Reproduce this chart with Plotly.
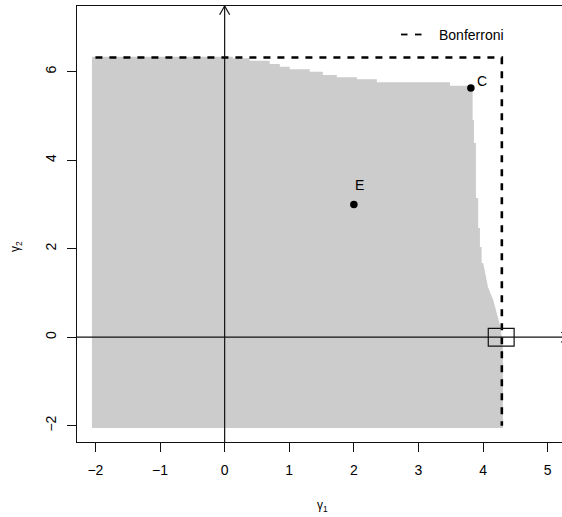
import plotly.graph_objects as go

# ---- axis extents and ticks ----
x_range = [-2.285, 5.221]
y_range = [-2.368, 7.485]
x_ticks = [-2, -1, 0, 1, 2, 3, 4, 5]
y_ticks = [-2, 0, 2, 4, 6]

# ---- acceptance region (grey) ----
region_left = -2.054
region_bottom = -2.052
# upper boundary: step breaks along gamma1 and the level of each step
top_breaks = [-2.054, 0.125, 0.389, 0.698, 0.853, 1.008, 1.318, 1.519,
              1.736, 2.046, 2.356, 3.487, 3.838]
top_levels = [6.339, 6.303, 6.249, 6.174, 6.113, 6.054, 6.000, 5.925,
              5.873, 5.828, 5.760, 5.684]
# right boundary, walking downwards
right_x = [3.838, 3.838, 3.858, 3.858, 3.889, 3.889, 3.924, 3.924, 3.951,
           3.951, 3.977, 3.977, 4.002, 4.075, 4.157, 4.230, 4.260, 4.291,
           4.307, 4.307]
right_y = [5.684, 4.909, 4.909, 4.389, 4.389, 3.146, 3.146, 2.468, 2.468,
           2.038, 2.038, 1.677, 1.677, 1.134, 0.841, 0.457, 0.276, 0.005,
           -0.289, -2.052]

# ---- Bonferroni rectangle ----
bonf_left = -2.0
bonf_x = 4.29
bonf_y = 6.32
bonf_low = -2.0

# ---- labelled points ----
point_names = ["C", "E"]
point_x = [3.811, 2.0]
point_y = [5.632, 3.0]
label_x = [3.982, 2.092]
label_y = [5.79, 3.43]

# ---- small box around the Bonferroni corner on the gamma1 axis ----
zoom_box_x = [4.08, 4.48]
zoom_box_y = [-0.2, 0.2]

# arrow tips of the coordinate axes
h_arrow_tip = 5.344
v_arrow_tip = y_range[1]

FONT = "Liberation Sans, Arial, Helvetica, sans-serif"
INK = "#111111"

# plot-area pixel geometry, used to place paper-referenced items
L, T, B, W, H = 77, 6, 75, 562, 517
PW, PH = W - L, H - T - B


def px(xp):
    return (xp - L) / PW


def py(yp):
    return (T + PH - yp) / PH


# build the grey polygon
poly_x = [region_left, region_left]
poly_y = [region_bottom, top_levels[0]]
for i, lvl in enumerate(top_levels):
    poly_x += [top_breaks[i], top_breaks[i + 1]]
    poly_y += [lvl, lvl]
poly_x += right_x + [region_left]
poly_y += right_y + [region_bottom]

fig = go.Figure()

fig.add_trace(go.Scatter(
    x=poly_x, y=poly_y, mode="lines", fill="toself",
    fillcolor="#cccccc", line=dict(color="#cccccc", width=0),
    hoverinfo="skip", showlegend=False))

# Bonferroni bound (dashed)
fig.add_trace(go.Scatter(
    x=[bonf_left, bonf_x, bonf_x], y=[bonf_y, bonf_y, bonf_low],
    mode="lines", line=dict(color="black", width=2.6, dash="7px,7px"),
    hoverinfo="skip", showlegend=False))

# points
fig.add_trace(go.Scatter(
    x=point_x, y=point_y, mode="markers",
    marker=dict(color="black", size=7.5),
    hoverinfo="skip", showlegend=False))

shapes = []
# coordinate axes through the origin
shapes.append(dict(type="line", xref="x", yref="y", x0=x_range[0], x1=h_arrow_tip,
                   y0=0, y1=0, line=dict(color=INK, width=1.2)))
shapes.append(dict(type="line", xref="x", yref="y", x0=0, x1=0,
                   y0=y_range[0], y1=v_arrow_tip, line=dict(color=INK, width=1.2)))
# arrow heads (about 10 px long, 30 degrees)
hx_len, hy_half = 8.7 / 64.6, 5.0 / 44.25
vx_half, vy_len = 5.0 / 64.6, 8.7 / 44.25
for s in (-1, 1):
    shapes.append(dict(type="line", xref="x", yref="y", x0=h_arrow_tip, y0=0,
                       x1=h_arrow_tip - hx_len, y1=s * hy_half,
                       line=dict(color=INK, width=1.2)))
    shapes.append(dict(type="line", xref="x", yref="y", x0=0, y0=v_arrow_tip,
                       x1=s * vx_half, y1=v_arrow_tip - vy_len,
                       line=dict(color=INK, width=1.2)))
# small box
shapes.append(dict(type="rect", xref="x", yref="y",
                   x0=zoom_box_x[0], x1=zoom_box_x[1],
                   y0=zoom_box_y[0], y1=zoom_box_y[1],
                   line=dict(color=INK, width=1.2)))
# legend sample: two short dashes
for x0, x1 in ((401, 407.5), (415, 421.5)):
    shapes.append(dict(type="line", xref="paper", yref="paper",
                       x0=px(x0), x1=px(x1), y0=py(34.5), y1=py(34.5),
                       line=dict(color="black", width=1.8)))

annotations = []
for name, lx, ly in zip(point_names, label_x, label_y):
    annotations.append(dict(x=lx, y=ly, xref="x", yref="y", text=name,
                            showarrow=False, xanchor="center", yanchor="middle",
                            font=dict(size=14, color="black", family=FONT)))
annotations.append(dict(x=px(437), y=py(35), xref="paper", yref="paper",
                        text="Bonferroni", showarrow=False,
                        xanchor="left", yanchor="middle",
                        font=dict(size=14, color="black", family=FONT)))
# axis titles
annotations.append(dict(x=px(322), y=py(506), xref="paper", yref="paper",
                        text="γ<sub>1</sub>", showarrow=False,
                        xanchor="center", yanchor="middle",
                        font=dict(size=12, color="black", family=FONT)))
annotations.append(dict(x=px(16), y=py(247), xref="paper", yref="paper",
                        text="γ<sub>2</sub>", showarrow=False, textangle=-90,
                        xanchor="center", yanchor="middle",
                        font=dict(size=12, color="black", family=FONT)))

fig.update_layout(
    width=W, height=H,
    margin=dict(l=L, r=0, t=T, b=B),
    paper_bgcolor="white", plot_bgcolor="white",
    shapes=shapes, annotations=annotations,
    showlegend=False,
    font=dict(family=FONT, color="black"),
    xaxis=dict(range=x_range, tickvals=x_ticks,
               ticktext=[str(v).replace("-", "−") for v in x_ticks],
               ticks="outside", ticklen=9, tickcolor=INK, tickwidth=1.2,
               ticklabelstandoff=6,
               showline=True, linecolor=INK, linewidth=1.2, mirror=True,
               showgrid=False, zeroline=False, tickfont=dict(size=14, family=FONT)),
    yaxis=dict(range=y_range, tickvals=y_ticks,
               ticktext=[str(v).replace("-", "−") for v in y_ticks],
               ticks="outside", ticklen=9, tickcolor=INK, tickwidth=1.2, tickangle=-90,
               ticklabelstandoff=5,
               showline=True, linecolor=INK, linewidth=1.2, mirror=False,
               showgrid=False, zeroline=False, tickfont=dict(size=14, family=FONT)),
)

fig.write_html("out.html")
